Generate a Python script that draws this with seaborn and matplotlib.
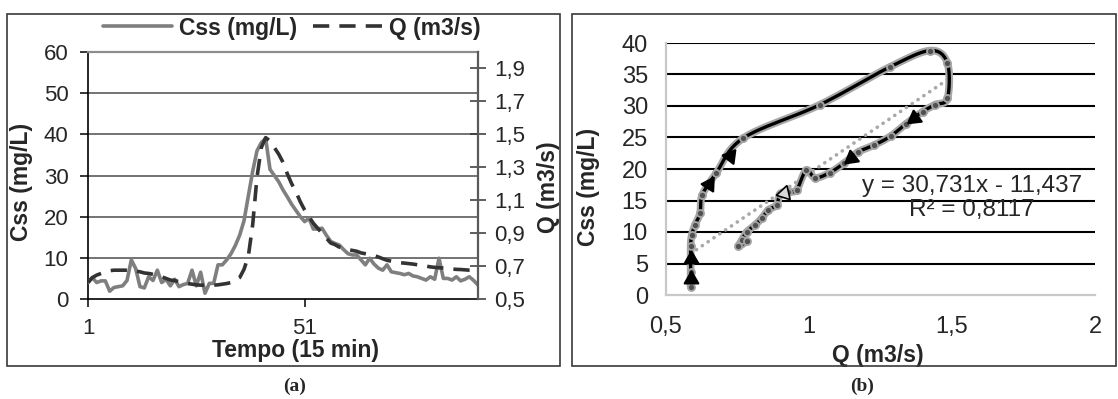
import numpy as np
import pandas as pd
import matplotlib
matplotlib.use("Agg")
import matplotlib.pyplot as plt
from matplotlib.lines import Line2D
from matplotlib.patches import Rectangle
import seaborn as sns

# ---------------- data ----------------
time_steps = list(range(1, 92))
css_series = [4.0, 5.2, 4.0, 4.4, 4.4, 1.9, 2.8, 3.0, 3.2, 4.5,
              9.5, 7.4, 3.0, 2.7, 5.4, 4.5, 7.0, 4.0, 4.8, 3.2,
              4.8, 3.0, 3.5, 3.8, 7.0, 3.2, 6.5, 1.4, 3.8, 3.8,
              8.3, 8.3, 9.5, 11.0, 13.0, 15.5, 19.0, 25.0, 31.0, 36.0,
              38.0, 39.0, 31.5, 30.0, 28.5, 26.5, 24.8, 23.0, 21.5, 20.0,
              18.8, 19.6, 17.0, 17.0, 17.2, 15.5, 14.0, 13.5, 13.1, 12.0,
              11.0, 10.7, 10.7, 9.5, 8.3, 9.9, 8.5, 7.5, 7.0, 8.3,
              6.6, 6.4, 6.2, 5.9, 6.2, 5.6, 5.4, 5.0, 4.6, 5.4,
              4.8, 9.9, 5.0, 5.0, 4.6, 5.4, 4.4, 4.8, 5.4, 4.5, 3.4]
q_series = [0.600, 0.630, 0.645, 0.655, 0.665, 0.672, 0.675, 0.675, 0.675, 0.675,
            0.675, 0.670, 0.665, 0.658, 0.655, 0.650, 0.645, 0.635, 0.625, 0.615,
            0.612, 0.605, 0.598, 0.594, 0.590, 0.586, 0.584, 0.584, 0.584, 0.584,
            0.586, 0.590, 0.594, 0.600, 0.615, 0.630, 0.680, 0.760, 0.950, 1.240,
            1.420, 1.480, 1.460, 1.420, 1.380, 1.330, 1.260, 1.200, 1.150, 1.090,
            1.040, 1.000, 0.960, 0.930, 0.900, 0.870, 0.840, 0.830, 0.815, 0.805,
            0.800, 0.795, 0.790, 0.780, 0.775, 0.770, 0.765, 0.755, 0.745, 0.735,
            0.730, 0.725, 0.720, 0.718, 0.715, 0.712, 0.708, 0.705, 0.700, 0.695,
            0.692, 0.690, 0.688, 0.685, 0.682, 0.680, 0.679, 0.677, 0.675, 0.675, 0.675]
left_y_ticks = [0, 10, 20, 30, 40, 50, 60]
left_x_ticks = [1, 51]
q_ticks = [0.5, 0.7, 0.9, 1.1, 1.3, 1.5, 1.7, 1.9]
q_tick_labels = ["0,5", "0,7", "0,9", "1,1", "1,3", "1,5", "1,7", "1,9"]

hyst_q = [0.586, 0.586, 0.586, 0.590, 0.601, 0.619, 0.627, 0.675, 0.770, 1.038,
          1.283, 1.424, 1.484, 1.484, 1.440, 1.397, 1.340, 1.285, 1.228, 1.172,
          1.122, 1.072, 1.022, 0.990, 0.957, 0.928, 0.899, 0.887, 0.858, 0.835,
          0.811, 0.782, 0.765, 0.753, 0.782]
hyst_css = [1.3, 3.7, 7.7, 9.5, 11.1, 13.0, 15.9, 19.3, 24.9, 30.2,
            36.2, 38.8, 36.8, 31.2, 30.2, 29.1, 27.2, 25.2, 23.8, 22.7,
            20.9, 19.4, 18.6, 19.8, 16.7, 16.4, 16.1, 14.3, 13.5, 12.2,
            11.1, 10.0, 8.7, 7.7, 8.5]
trend_slope = 30.731
trend_intercept = -11.437
r_squared = 0.8117
right_x_ticks = [0.5, 1.0, 1.5, 2.0]
right_x_labels = ["0,5", "1", "1,5", "2"]
right_y_ticks = [0, 5, 10, 15, 20, 25, 30, 35, 40]
arrow_segments = [0, 1, 6, 7, 15, 19]
hollow_arrow_segments = [25]

# ---------------- style ----------------
sns.set_theme(style="white")
plt.rcParams["font.family"] = ["Liberation Sans", "DejaVu Sans"]
plt.rcParams["axes.unicode_minus"] = False

W, H = 1118, 399
fig = plt.figure(figsize=(W / 100, H / 100), dpi=100)
fig.patch.set_facecolor("white")


def fx(px):
    return px / W


def fy(py):
    return 1 - py / H


# panel frames
for x0, x1 in [(7, 560), (572, 1116)]:
    fig.patches.append(Rectangle((fx(x0), fy(366)), fx(x1) - fx(x0), fy(14) - fy(366),
                                 transform=fig.transFigure, fill=False,
                                 edgecolor="#3a3a3a", lw=1.2))

# ================= panel (a) =================
axL = fig.add_axes([fx(88), fy(299), (478 - 88) / W, (299 - 52) / H])
df = pd.DataFrame({"t": time_steps, "css": css_series, "q": q_series})
sns.lineplot(data=df, x="t", y="css", ax=axL, color="#7f7f7f", lw=2.6, zorder=3)
axL.set_xlim(1, 91)
axL.set_ylim(0, 60)
axL.set_yticks(left_y_ticks)
axL.set_xticks(left_x_ticks)
for v in left_y_ticks[1:-1]:
    axL.axhline(v, color="#4d4d4d", lw=1.1, zorder=1)
axL.spines["left"].set_color("black")
axL.spines["bottom"].set_color("black")
axL.spines["top"].set_color("#8c8c8c")
axL.spines["top"].set_linewidth(1.6)
axL.spines["right"].set_visible(False)
for s in ["left", "bottom"]:
    axL.spines[s].set_linewidth(1.2)
axL.tick_params(axis="both", direction="out", length=6, width=1.1, color="black",
                labelsize=16, pad=8, left=True, bottom=True)
axL.set_xlabel("Tempo (15 min)", fontsize=16.5, fontweight="bold")
axL.xaxis.set_label_coords(0.533, -0.16)
axL.set_ylabel("Css (mg/L)", fontsize=16.5, fontweight="bold")
axL.yaxis.set_label_coords(-0.142, 0.474)

axQ = axL.twinx()
sns.lineplot(data=df, x="t", y="q", ax=axQ, color="#333333", lw=2.6, zorder=4)
qline = axQ.lines[0]
qline.set_dashes([4.5, 2.8])
qline.set_dash_capstyle("butt")
axQ.set_xlim(1, 91)
axQ.set_ylim(0.5, 2.0)
axQ.set_yticks(q_ticks)
axQ.set_yticklabels(q_tick_labels)
for s in ["left", "top", "bottom"]:
    axQ.spines[s].set_visible(False)
axQ.spines["right"].set_color("#5a5a5a")
axQ.spines["right"].set_linewidth(1.6)
axQ.tick_params(axis="y", direction="inout", length=11, width=1.1, color="#333333",
                labelsize=16, pad=6, right=True)
axQ.set_ylabel("Q (m3/s)", fontsize=16.5, fontweight="bold")
axQ.yaxis.set_label_coords(1.151, 0.453)

handles = [Line2D([], [], color="#7f7f7f", lw=2.6),
           Line2D([], [], color="#333333", lw=2.6, dashes=(4.5, 2.8))]
fig.legend(handles, ["Css (mg/L)", "Q (m3/s)"], loc="center",
           bbox_to_anchor=(fx(292), fy(28)), ncol=2, frameon=False,
           prop={"weight": "bold", "size": 16.5}, handlelength=3.0,
           handletextpad=0.3, columnspacing=0.7, borderaxespad=0, borderpad=0)

# ================= panel (b) =================
axR = fig.add_axes([fx(666), fy(295), (1095 - 666) / W, (295 - 43) / H])
axR.set_xlim(0.5, 2.0)
axR.set_ylim(0, 40)
for v in right_y_ticks[1:]:
    axR.axhline(v, color="black", lw=1.5, zorder=1)

# smoothed path for the connecting line (Bezier through the read points)
P = np.column_stack([hyst_q, hyst_css])
n = len(P)
smooth = []
for i in range(n - 1):
    p0 = P[max(i - 1, 0)]
    p1 = P[i]
    p2 = P[i + 1]
    p3 = P[min(i + 2, n - 1)]
    c1 = p1 + (p2 - p0) / 6.0
    c2 = p2 - (p3 - p1) / 6.0
    tt = np.linspace(0, 1, 12)[:, None]
    seg = ((1 - tt) ** 3) * p1 + 3 * ((1 - tt) ** 2) * tt * c1 + 3 * (1 - tt) * tt ** 2 * c2 + tt ** 3 * p2
    smooth.append(seg if i == 0 else seg[1:])
smooth = np.vstack(smooth)
dfs = pd.DataFrame({"q": smooth[:, 0], "css": smooth[:, 1]})
sns.lineplot(data=dfs, x="q", y="css", ax=axR, sort=False, estimator=None,
             color="#a8a8a8", lw=5.5, zorder=2)
sns.lineplot(data=dfs, x="q", y="css", ax=axR, sort=False, estimator=None,
             color="black", lw=2.4, zorder=3)

# trend line
tx = np.array([min(hyst_q), max(hyst_q)])
dft = pd.DataFrame({"q": tx, "css": trend_slope * tx + trend_intercept})
sns.lineplot(data=dft, x="q", y="css", ax=axR, color="#a8a8a8", lw=2.6, zorder=2.5)
tl = axR.lines[-1]
tl.set_linestyle((0, (0.05, 1.9)))
tl.set_dash_capstyle("round")

dfh = pd.DataFrame({"q": hyst_q, "css": hyst_css})
sns.scatterplot(data=dfh, x="q", y="css", ax=axR, s=26, color="#505050",
                edgecolor="#a5a5a5", linewidth=1.3, zorder=5)

# direction triangles along the loop
fig.canvas.draw()
for segs, face in [(arrow_segments, "black"), (hollow_arrow_segments, "#d8d8d8")]:
    for i in segs:
        a = np.array([hyst_q[i], hyst_css[i]])
        b = np.array([hyst_q[i + 1], hyst_css[i + 1]])
        da = axR.transData.transform(a)
        db = axR.transData.transform(b)
        ang = np.degrees(np.arctan2(db[1] - da[1], db[0] - da[0]))
        mid = (a + b) / 2
        axR.plot([mid[0]], [mid[1]], marker=(3, 0, ang - 90), ms=12,
                 mfc=face, mec="black", mew=1.2, ls="none", zorder=6)

eq = "y = {}x - {}\nR² = {}".format(
    f"{trend_slope:.3f}".replace(".", ","),
    f"{abs(trend_intercept):.3f}".replace(".", ","),
    f"{r_squared:.4f}".replace(".", ","))
axR.text(1.57, 15.4, eq, ha="center", va="center", fontsize=17.5,
         linespacing=1.1, multialignment="center", zorder=7)

axR.set_xticks(right_x_ticks)
axR.set_xticklabels(right_x_labels)
axR.set_yticks(right_y_ticks)
for s in ["top", "right"]:
    axR.spines[s].set_visible(False)
for s in ["left", "bottom"]:
    axR.spines[s].set_color("#c8c8c8")
    axR.spines[s].set_linewidth(1.6)
axR.tick_params(axis="both", length=0, labelsize=17)
axR.tick_params(axis="y", pad=13)
axR.tick_params(axis="x", pad=15)
axR.set_xlabel("Q (m3/s)", fontsize=16.5, fontweight="bold")
axR.xaxis.set_label_coords(0.494, -0.195)
axR.set_ylabel("Css (mg/L)", fontsize=16.5, fontweight="bold")
axR.yaxis.set_label_coords(-0.154, 0.43)

# panel labels
fig.text(fx(295), fy(386), "(a)", family=["Liberation Serif", "DejaVu Serif"],
         fontweight="bold", fontsize=14, ha="center", va="center")
fig.text(fx(862), fy(386), "(b)", family=["Liberation Serif", "DejaVu Serif"],
         fontweight="bold", fontsize=14, ha="center", va="center")

fig.savefig("out.png", dpi=100, facecolor="white")
